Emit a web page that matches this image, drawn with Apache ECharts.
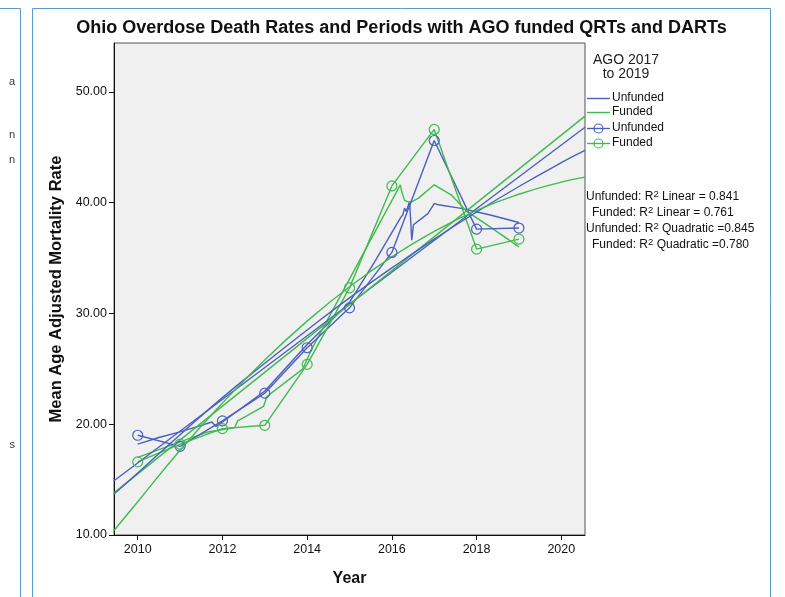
<!DOCTYPE html>
<html>
<head>
<meta charset="utf-8">
<script src="https://cdn.jsdelivr.net/npm/echarts@6/dist/echarts.min.js"></script>
<style>
  html, body { margin: 0; padding: 0; background: #ffffff; }
  #chart { width: 785px; height: 597px; }
</style>
</head>
<body>
<div id="chart"></div>
<script>
// Observed mean age-adjusted overdose mortality rates by year
const years = [2010, 2011, 2012, 2013, 2014, 2015, 2016, 2017, 2018, 2019];
const unfundedRate = [19.0, 18.0, 20.3, 22.8, 26.9, 30.5, 35.5, 45.6, 37.6, 37.7];
const fundedRate = [16.6, 18.2, 19.6, 19.9, 25.4, 32.3, 41.5, 46.6, 35.8, 36.7];

// Interpolated trend lines (no markers)
const unfundedTrendX = [2010, 2010.5, 2011, 2011.5, 2011.75, 2011.85, 2012, 2013, 2014, 2015, 2015.6, 2016.2, 2016.26, 2016.3, 2016.34, 2016.42, 2016.47, 2016.51, 2016.85, 2017, 2017.1, 2017.6, 2018.3, 2019];
const unfundedTrendY = [18.2, 18.8, 19.3, 19.9, 20.2, 19.8, 20.2, 23.0, 27.2, 31.0, 34.7, 38.6, 38.9, 39.5, 39.2, 40.1, 36.6, 38.0, 39.0, 39.9, 39.8, 39.5, 38.9, 38.2];
const fundedTrendX = [2010, 2011, 2011.66, 2012.29, 2012.36, 2012.5, 2012.97, 2013.05, 2013.8, 2013.9, 2014.11, 2016.2, 2016.24, 2016.3, 2016.43, 2016.63, 2017.0, 2017.4, 2017.77, 2018.32, 2019];
const fundedTrendY = [17.0, 18.4, 19.3, 19.7, 20.3, 20.6, 21.6, 22.5, 24.7, 25.0, 26.8, 41.6, 40.9, 40.2, 40.0, 40.4, 41.6, 40.7, 39.2, 37.8, 36.0];

// Fit lines across the axis range
const fitX = [2009.44, 2020.56];
const linearUnfunded = [14.9, 46.8];
const linearFunded = [13.8, 47.8];
const quadX = [2009.44, 2010, 2011, 2012, 2013, 2014, 2015, 2016, 2017, 2018, 2019, 2020, 2020.56];
const quadUnfunded = [13.7, 15.6, 19.05, 22.4, 25.5, 28.5, 31.4, 34.1, 36.7, 39.15, 41.45, 43.6, 44.7];
const quadFunded = [10.4, 13.0, 17.65, 21.9, 25.8, 29.3, 32.4, 35.1, 37.4, 39.3, 40.75, 41.85, 42.3];

// Axis ticks
const xTicks = [2010, 2012, 2014, 2016, 2018, 2020];
const yTicks = [10, 20, 30, 40, 50];

// Legend and annotation text
const legendTitle = ['AGO 2017', 'to 2019'];
const legendNames = ['Unfunded', 'Funded', 'Unfunded', 'Funded'];
const fitNotes = [
  ['Unfunded: R', ' Linear = 0.841'],
  ['Funded: R', ' Linear = 0.761'],
  ['Unfunded: R', ' Quadratic =0.845'],
  ['Funded: R', ' Quadratic =0.780']
];

const BLUE = '#4a5fbf';
const GREEN = '#3fbb4e';
const FONT = '"Liberation Sans", Arial, sans-serif';

const zip = (xs, ys) => xs.map((x, i) => [x, ys[i]]);

const GRID = { left: 114, top: 43, width: 471, height: 492 };

function lineSeries(name, xs, ys, color, opts) {
  return Object.assign({
    name: name,
    type: 'line',
    data: zip(xs, ys),
    showSymbol: false,
    symbol: 'none',
    lineStyle: { color: color, width: 1.4 },
    itemStyle: { color: color },
    silent: true,
    animation: false,
    z: 2
  }, opts || {});
}

const series = [
  lineSeries('Unfunded', unfundedTrendX, unfundedTrendY, BLUE),
  lineSeries('Funded', fundedTrendX, fundedTrendY, GREEN),
  lineSeries('Unfunded markers', years, unfundedRate, BLUE, {
    showSymbol: true, symbol: 'circle', symbolSize: 10,
    itemStyle: { color: 'rgba(0,0,0,0)', borderColor: BLUE, borderWidth: 1.2 }
  }),
  lineSeries('Funded markers', years, fundedRate, GREEN, {
    showSymbol: true, symbol: 'circle', symbolSize: 10,
    itemStyle: { color: 'rgba(0,0,0,0)', borderColor: GREEN, borderWidth: 1.2 }
  }),
  lineSeries('Unfunded linear', fitX, linearUnfunded, BLUE),
  lineSeries('Funded linear', fitX, linearFunded, GREEN),
  lineSeries('Unfunded quadratic', quadX, quadUnfunded, BLUE, { smooth: true }),
  lineSeries('Funded quadratic', quadX, quadFunded, GREEN, { smooth: true })
];

// Legend drawn as graphic items (names repeat across entries)
const legendY = [98, 112, 128, 143];
const legendColors = [BLUE, GREEN, BLUE, GREEN];
const graphics = [];

// Panel frames
graphics.push({ type: 'polyline', silent: true,
  shape: { points: [[32.5, 600], [32.5, 8.5], [770.5, 8.5], [770.5, 600]] },
  style: { stroke: '#5b9bd5', lineWidth: 1, fill: null } });
graphics.push({ type: 'polyline', silent: true,
  shape: { points: [[0, 8.5], [20.5, 8.5], [20.5, 600]] },
  style: { stroke: '#5b9bd5', lineWidth: 1, fill: null } });

// Clipped words from the neighbouring panel
[['a', 82], ['n', 135], ['n', 160], ['s', 445]].forEach(([t, y]) => {
  graphics.push({ type: 'text', silent: true, x: 15, y: y,
    style: { text: t, fill: '#333', font: '11px ' + FONT, align: 'right', verticalAlign: 'middle' } });
});

// Title
graphics.push({ type: 'text', silent: true, x: 401.5, y: 28,
  style: { text: 'Ohio Overdose Death Rates and Periods with AGO funded QRTs and DARTs',
    fill: '#111', font: 'bold 18px ' + FONT, align: 'center', verticalAlign: 'middle' } });

// Legend title
legendTitle.forEach((t, i) => {
  graphics.push({ type: 'text', silent: true, x: 626, y: 60 + i * 14,
    style: { text: t, fill: '#222', font: '14px ' + FONT, align: 'center', verticalAlign: 'middle' } });
});

legendNames.forEach((name, i) => {
  const y = legendY[i] + 0.5;
  graphics.push({ type: 'line', silent: true,
    shape: { x1: 587, y1: y, x2: 610, y2: y },
    style: { stroke: legendColors[i], lineWidth: 1.4 } });
  if (i >= 2) {
    graphics.push({ type: 'circle', silent: true,
      shape: { cx: 598.5, cy: y, r: 4.5 },
      style: { stroke: legendColors[i], lineWidth: 1.2, fill: null } });
  }
  graphics.push({ type: 'text', silent: true, x: 612, y: legendY[i],
    style: { text: name, fill: '#111', font: '12px ' + FONT, align: 'left', verticalAlign: 'middle' } });
});

// R-squared notes
const noteX = [586, 592, 586, 592];
const noteY = [196, 212, 228, 244];
fitNotes.forEach((parts, i) => {
  graphics.push({ type: 'text', silent: true, x: noteX[i], y: noteY[i],
    style: {
      text: '{a|' + parts[0] + '}{s|2}{a|' + parts[1] + '}',
      align: 'left', verticalAlign: 'middle',
      rich: {
        a: { fill: '#111', font: '12px ' + FONT, verticalAlign: 'bottom', lineHeight: 14 },
        s: { fill: '#111', font: '9.5px ' + FONT, verticalAlign: 'top', lineHeight: 14, padding: [0, 0, 6, 0] }
      }
    } });
});

const chart = echarts.init(document.getElementById('chart'), null, { renderer: 'canvas' });
chart.setOption({
  animation: false,
  backgroundColor: '#ffffff',
  grid: Object.assign({ show: true, backgroundColor: '#f0f0f0', borderColor: '#555', borderWidth: 1 }, GRID),
  xAxis: {
    type: 'value', min: 2009.44, max: 2020.56,
    name: 'Year', nameLocation: 'middle', nameGap: 36,
    nameTextStyle: { fontFamily: FONT, fontWeight: 'bold', fontSize: 16, color: '#111' },
    axisLine: { show: true, lineStyle: { color: '#111', width: 1 } },
    axisTick: { show: true, length: 5, lineStyle: { color: '#111' }, customValues: xTicks },
    axisLabel: { customValues: xTicks, fontFamily: FONT, fontSize: 12.5, color: '#111', margin: 8,
      formatter: v => String(v) },
    splitLine: { show: false }
  },
  yAxis: {
    type: 'value', min: 10, max: 54.4,
    name: 'Mean Age Adjusted Mortality Rate', nameLocation: 'middle', nameGap: 48,
    nameTextStyle: { fontFamily: FONT, fontWeight: 'bold', fontSize: 16.5, color: '#111' },
    axisLine: { show: true, lineStyle: { color: '#111', width: 1 } },
    axisTick: { show: true, length: 5, lineStyle: { color: '#111' }, customValues: yTicks },
    axisLabel: { customValues: yTicks, fontFamily: FONT, fontSize: 12.5, color: '#111', margin: 7,
      formatter: v => Number(v).toFixed(2) },
    splitLine: { show: false }
  },
  series: series,
  graphic: { elements: graphics }
});
</script>
</body>
</html>
